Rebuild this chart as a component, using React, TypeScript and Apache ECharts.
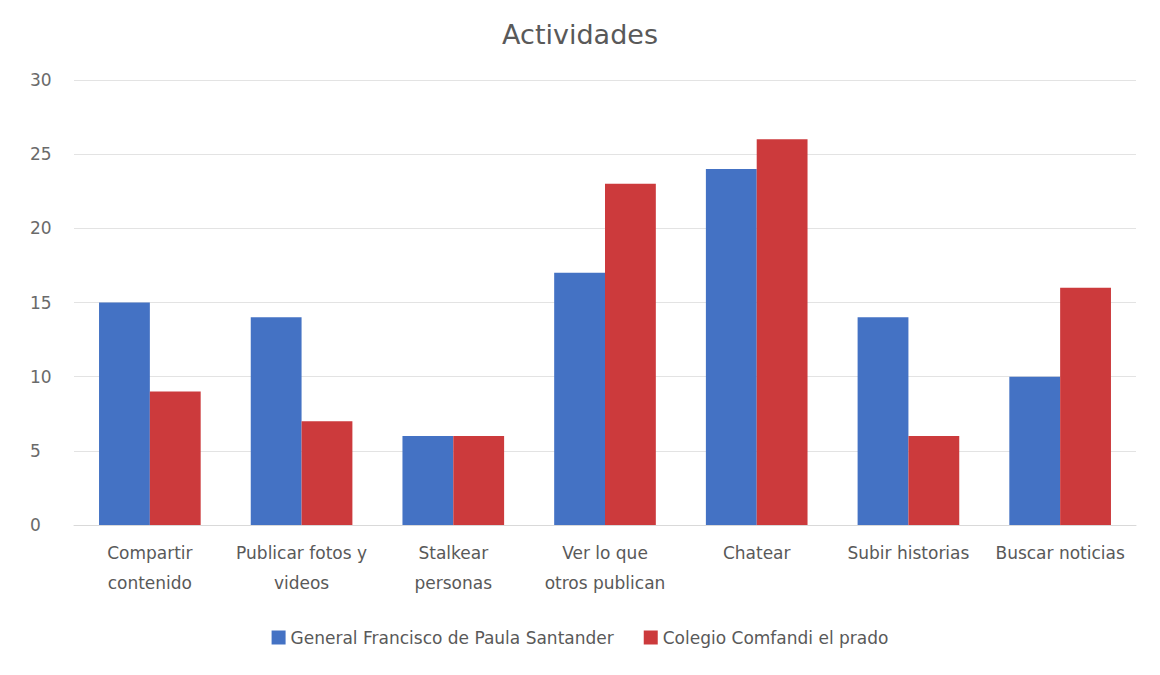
import React, { useEffect, useRef } from "react";
import * as echarts from "echarts";

const categories = [
  "Compartir\ncontenido",
  "Publicar fotos y\nvideos",
  "Stalkear\npersonas",
  "Ver lo que\notros publican",
  "Chatear",
  "Subir historias",
  "Buscar noticias",
];
const seriesNames = ["General Francisco de Paula Santander", "Colegio Comfandi el prado"];
const santander = [15, 14, 6, 17, 24, 14, 10];
const comfandi = [9, 7, 6, 23, 26, 6, 16];
const colors = ["#4472C4", "#CC3A3C"];

export default function App() {
  const ref = useRef<HTMLDivElement>(null);
  useEffect(() => {
    const chart = echarts.init(ref.current!, null, { renderer: "svg" });
    const font = "'DejaVu Sans', 'Open Sans', sans-serif";
    chart.setOption({
      animation: false,
      color: colors,
      textStyle: { fontFamily: font },
      title: {
        text: "Actividades",
        left: "center",
        top: 8,
        textStyle: { fontSize: 27, fontWeight: "normal", color: "#595959", fontFamily: font },
      },
      legend: {
        bottom: 16,
        left: "center",
        itemWidth: 14,
        itemHeight: 14,
        itemGap: 30,
        icon: "rect",
        textStyle: { fontSize: 17, color: "#595959", fontFamily: font },
        data: seriesNames,
      },
      grid: { left: 66, right: 16, top: 72, bottom: 142 },
      xAxis: {
        type: "category",
        data: categories,
        axisTick: { show: false },
        axisLine: { lineStyle: { color: "#D9D9D9" } },
        axisLabel: { fontSize: 17, color: "#595959", lineHeight: 30, margin: 13, interval: 0, fontFamily: font },
      },
      yAxis: {
        type: "value",
        min: 0,
        max: 30,
        interval: 5,
        axisLabel: { fontSize: 17, color: "#6A6A6A", margin: 44, align: "left", fontFamily: font },
        splitLine: { lineStyle: { color: "#E3E3E3" } },
        axisLine: { show: false },
        axisTick: { show: false },
      },
      series: [
        {
          name: seriesNames[0],
          type: "bar",
          data: santander,
          barGap: "0%",
          barCategoryGap: "33%",
        },
        {
          name: seriesNames[1],
          type: "bar",
          data: comfandi,
          barGap: "0%",
          barCategoryGap: "33%",
        },
      ],
    });
    return () => chart.dispose();
  }, []);
  return <div ref={ref} style={{ width: 1144, height: 659 }} />;
}
